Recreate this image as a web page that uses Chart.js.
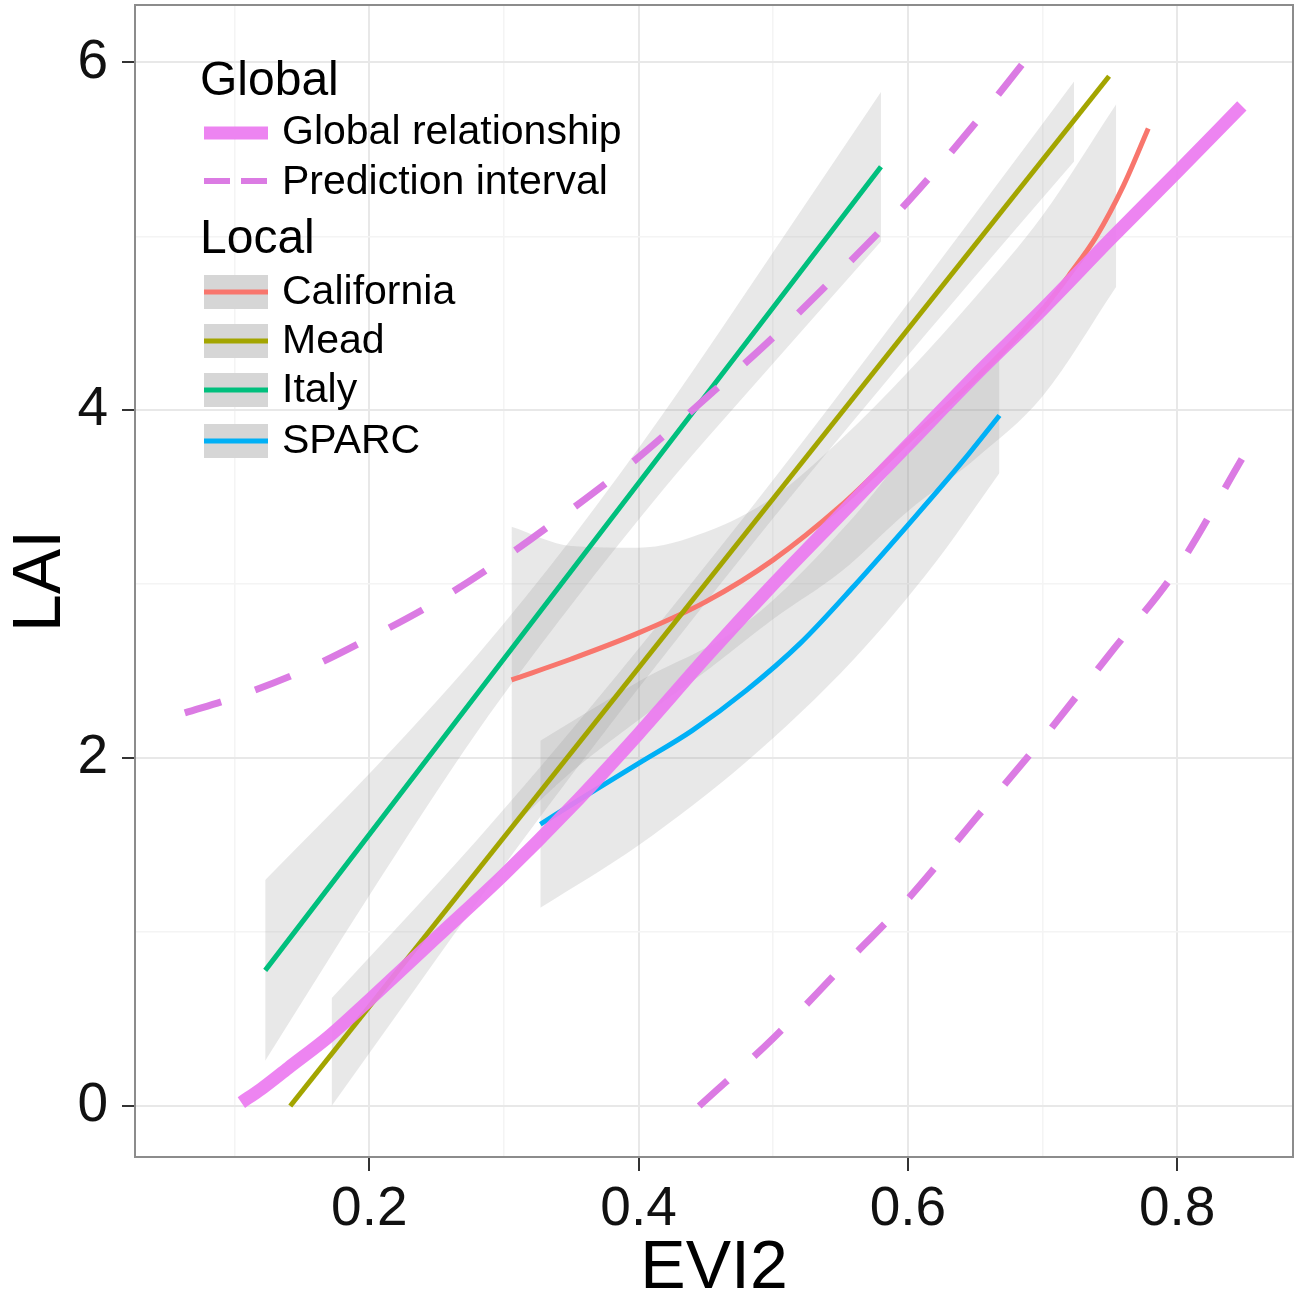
<!DOCTYPE html>
<html>
<head>
<meta charset="utf-8">
<title>LAI vs EVI2</title>
<script src="https://cdn.jsdelivr.net/npm/chart.js@4.4.1/dist/chart.umd.min.js"></script>
<style>
  html, body { margin: 0; padding: 0; background: #fff; }
  #wrap { width: 1305px; height: 1296px; position: relative; }
</style>
</head>
<body>
<div id="wrap"><canvas id="chart"></canvas></div>
<script>
// values (EVI2 on x, LAI on y)
const globalX = [0.105, 0.12, 0.14, 0.17, 0.2, 0.25, 0.3, 0.35, 0.4, 0.45, 0.5, 0.55, 0.6, 0.65, 0.7, 0.75, 0.8, 0.848];
const globalY = [0.02, 0.1, 0.22, 0.40, 0.61, 0.97, 1.33, 1.72, 2.14, 2.58, 3.0, 3.40, 3.80, 4.20, 4.58, 4.98, 5.37, 5.75];

const piUpperX = [0.063, 0.1, 0.15, 0.2, 0.25, 0.3, 0.35, 0.4, 0.45, 0.5, 0.55, 0.6, 0.65, 0.686];
const piUpperY = [2.26, 2.35, 2.50, 2.69, 2.90, 3.15, 3.43, 3.73, 4.07, 4.42, 4.80, 5.20, 5.65, 6.0];
const piLowerX = [0.445, 0.5, 0.55, 0.6, 0.65, 0.7, 0.75, 0.8, 0.848];
const piLowerY = [0.0, 0.39, 0.79, 1.19, 1.65, 2.11, 2.6, 3.09, 3.72];

const calX = [0.3056, 0.35, 0.40, 0.45, 0.50, 0.55, 0.60, 0.65, 0.70, 0.72, 0.74, 0.76, 0.7785];
const calY = [2.45, 2.57, 2.72, 2.9, 3.14, 3.45, 3.82, 4.18, 4.58, 4.78, 5.0, 5.29, 5.62];
const calBandX = [0.3056, 0.35, 0.40, 0.45, 0.50, 0.55, 0.60, 0.65, 0.70, 0.7547];
const calLo = [1.6, 1.92, 2.22, 2.5, 2.8, 3.07, 3.42, 3.72, 4.08, 4.71];
const calHi = [3.33, 3.22, 3.21, 3.3, 3.5, 3.83, 4.22, 4.65, 5.12, 5.76];

const meadX = [0.1413, 0.7494];
const meadY = [0.0, 5.92];
const meadBandX = [0.172, 0.22, 0.28, 0.35, 0.42, 0.5, 0.58, 0.65, 0.7234];
const meadLo = [0.0, 0.52, 1.17, 1.90, 2.60, 3.38, 4.13, 4.77, 5.43];
const meadHi = [0.62, 1.02, 1.53, 2.16, 2.82, 3.60, 4.41, 5.13, 5.89];

const italyX = [0.1227, 0.58];
const italyY = [0.78, 5.40];
const italyBandX = [0.1227, 0.2, 0.28, 0.35, 0.42, 0.5, 0.58];
const italyLo = [0.26, 1.21, 2.15, 2.88, 3.56, 4.27, 4.97];
const italyHi = [1.30, 1.91, 2.59, 3.26, 4.00, 4.91, 5.83];

const sparcX = [0.327, 0.36, 0.40, 0.44, 0.48, 0.52, 0.56, 0.60, 0.64, 0.668];
const sparcY = [1.62, 1.78, 1.97, 2.16, 2.39, 2.66, 2.99, 3.34, 3.70, 3.97];
const sparcBandX = [0.327, 0.40, 0.48, 0.56, 0.62, 0.668];
const sparcLo = [1.14, 1.5, 1.98, 2.57, 3.12, 3.64];
const sparcHi = [2.10, 2.44, 2.78, 3.39, 3.96, 4.32];

const xTickLabels = ['0.2', '0.4', '0.6', '0.8'];
const yTickLabels = ['0', '2', '4', '6'];

const localNames = ['California', 'Mead', 'Italy', 'SPARC'];
const localColors = ['#F8766D', '#A3A500', '#00BF7D', '#00B0F6'];
const globalNames = ['Global relationship', 'Prediction interval'];
const GLOBAL_COL = 'rgba(236,122,240,0.92)';
const PI_COL = '#DB7BE3';
const RIBBON = 'rgba(150,150,150,0.22)';
const FONT = '"Liberation Sans", Arial, sans-serif';

function pts(xs, ys) { return xs.map((x, i) => ({ x: x, y: ys[i] })); }

function lineDs(label, xs, ys, color, width, dash) {
  return { label, data: pts(xs, ys), showLine: true, borderColor: color, borderWidth: width,
    borderDash: dash || [], pointRadius: 0, fill: false, cubicInterpolationMode: 'monotone',
    borderCapStyle: 'butt' };
}
function bandDs(xs, lo, hi) {
  return [
    { label: 'lo', data: pts(xs, lo), showLine: true, borderColor: 'transparent', borderWidth: 0,
      pointRadius: 0, fill: false, cubicInterpolationMode: 'monotone' },
    { label: 'hi', data: pts(xs, hi), showLine: true, borderColor: 'transparent', borderWidth: 0,
      pointRadius: 0, fill: '-1', backgroundColor: RIBBON, cubicInterpolationMode: 'monotone' }
  ];
}

// first in the array is drawn on top
const datasets = [
  lineDs('Prediction upper', piUpperX, piUpperY, PI_COL, 7, [38, 36]),
  lineDs('Prediction lower', piLowerX, piLowerY, PI_COL, 7, [38, 36]),
  lineDs('Global', globalX, globalY, GLOBAL_COL, 13),
  lineDs('Mead', meadX, meadY, localColors[1], 5),
  lineDs('California', calX, calY, localColors[0], 5),
  lineDs('SPARC', sparcX, sparcY, localColors[3], 5),
  lineDs('Italy', italyX, italyY, localColors[2], 5),
  ...bandDs(calBandX, calLo, calHi),
  ...bandDs(meadBandX, meadLo, meadHi),
  ...bandDs(italyBandX, italyLo, italyHi),
  ...bandDs(sparcBandX, sparcLo, sparcHi)
];

function isMajorX(v) { return Math.round(v * 10) % 2 === 0; }
function isMajorY(v) { return Math.round(v) % 2 === 0; }

function noPad(s) { s.paddingTop = 0; s.paddingBottom = 0; s.paddingLeft = 0; s.paddingRight = 0; }

const frameAndLegend = {
  id: 'frameAndLegend',
  afterDatasetsDraw(chart) {
    const { ctx, chartArea: a } = chart;
    ctx.save();
    ctx.strokeStyle = '#8C8C8C';
    ctx.lineWidth = 2;
    ctx.strokeRect(a.left, a.top, a.right - a.left, a.bottom - a.top);
    ctx.restore();
  },
  afterDraw(chart) {
    const ctx = chart.ctx;
    ctx.save();
    ctx.fillStyle = '#000';
    ctx.textBaseline = 'middle';
    ctx.textAlign = 'left';
    const kx = 204, kw = 64, tx = 282;

    ctx.font = '48px ' + FONT;
    ctx.fillText('Global', 200, 82);
    ctx.fillText('Local', 200, 240);

    ctx.font = '41px ' + FONT;
    // global keys
    ctx.lineCap = 'butt';
    ctx.strokeStyle = GLOBAL_COL; ctx.lineWidth = 13;
    ctx.beginPath(); ctx.moveTo(kx, 133); ctx.lineTo(kx + kw, 133); ctx.stroke();
    ctx.strokeStyle = PI_COL; ctx.lineWidth = 6; ctx.setLineDash([26, 11]);
    ctx.beginPath(); ctx.moveTo(kx, 181); ctx.lineTo(kx + kw, 181); ctx.stroke();
    ctx.setLineDash([]);
    ctx.fillText(globalNames[0], tx, 133);
    ctx.fillText(globalNames[1], tx, 183);

    const rows = [292, 341, 390, 441];
    localNames.forEach((name, i) => {
      const cy = rows[i];
      ctx.fillStyle = '#D6D6D6';
      ctx.fillRect(kx, cy - 17, kw, 34);
      ctx.strokeStyle = localColors[i]; ctx.lineWidth = 5;
      ctx.beginPath(); ctx.moveTo(kx, cy); ctx.lineTo(kx + kw, cy); ctx.stroke();
      ctx.fillStyle = '#000';
      ctx.fillText(name, tx, cy + 1);
    });
    ctx.restore();
  }
};

new Chart(document.getElementById('chart'), {
  type: 'scatter',
  data: { datasets },
  options: {
    responsive: true,
    maintainAspectRatio: false,
    devicePixelRatio: 1,
    animation: false,
    layout: { padding: { left: 0, top: 5, right: 12, bottom: 0 } },
    plugins: { legend: { display: false }, tooltip: { enabled: false } },
    scales: {
      x: {
        type: 'linear', min: 0.026, max: 0.886,
        afterFit: s => { s.height = 139; noPad(s); },
        border: { display: false },
        grid: {
          color: c => (c.tick && isMajorX(c.tick.value)) ? '#E8E8E8' : '#F4F4F4',
          lineWidth: c => (c.tick && isMajorX(c.tick.value)) ? 2 : 1.5,
          tickColor: c => (c.tick && isMajorX(c.tick.value)) ? '#333' : 'rgba(0,0,0,0)',
          tickLength: 14, tickWidth: 2
        },
        ticks: {
          stepSize: 0.1, includeBounds: false, autoSkip: false, maxRotation: 0,
          padding: 6, color: '#111', font: { size: 55, family: FONT },
          callback: v => isMajorX(v) ? xTickLabels[Math.round(v * 10) / 2 - 1] : ''
        },
        title: { display: true, text: 'EVI2', color: '#000', padding: 0,
          font: { size: 68, family: FONT, lineHeight: 0.8 } }
      },
      y: {
        type: 'linear', min: -0.293, max: 6.33,
        afterFit: s => { s.width = 135; noPad(s); },
        border: { display: false },
        grid: {
          color: c => (c.tick && isMajorY(c.tick.value)) ? '#E8E8E8' : '#F4F4F4',
          lineWidth: c => (c.tick && isMajorY(c.tick.value)) ? 2 : 1.5,
          tickColor: c => (c.tick && isMajorY(c.tick.value)) ? '#333' : 'rgba(0,0,0,0)',
          tickLength: 13, tickWidth: 2
        },
        ticks: {
          stepSize: 1, includeBounds: false, autoSkip: false,
          padding: 14, color: '#111', font: { size: 55, family: FONT },
          callback: v => isMajorY(v) ? yTickLabels[Math.round(v) / 2] : ''
        },
        title: { display: true, text: 'LAI', color: '#000', padding: 0,
          font: { size: 68, family: FONT, lineHeight: 1.2 } }
      }
    }
  },
  plugins: [frameAndLegend]
});
</script>
</body>
</html>
